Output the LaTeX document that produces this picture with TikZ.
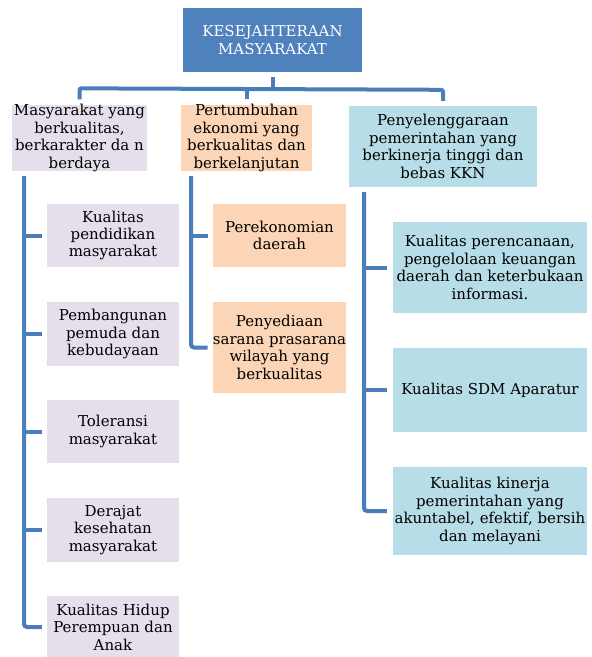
\documentclass[tikz,border=0pt]{standalone}
\usepackage{fontspec}
\setmainfont{DejaVu Serif}
\definecolor{topblue}{HTML}{4F81BD}
\definecolor{conncol}{HTML}{4A7EBB}
\definecolor{lavfill}{HTML}{E5DFEC}
\definecolor{peachfill}{HTML}{FBD5B5}
\definecolor{bluefill}{HTML}{B7DDE8}
\begin{document}
\begin{tikzpicture}[x=1pt,y=-1pt,
  box/.style={rectangle, inner sep=0pt, align=center, font=\fontsize{15}{17.4}\selectfont},
  topbox/.style={box, fill=topblue, text=white},
  lavbox/.style={box, fill=lavfill},
  peachbox/.style={box, fill=peachfill},
  bluebox/.style={box, fill=bluefill},
  conn/.style={draw=conncol, line width=4pt}]
\useasboundingbox (0,0) rectangle (592,657);
% top
\node[topbox, minimum width=179pt, minimum height=64pt] (top) at (272.5,40) {KESEJAHTERAAN\\MASYARAKAT};
% level 2
\node[lavbox, minimum width=135pt, minimum height=64pt] (L) at (79.5,138) {Masyarakat yang\\berkualitas,\\berkarakter da n\\berdaya};
\node[peachbox, minimum width=131pt, minimum height=64pt] (M) at (246.5,138) {Pertumbuhan\\ekonomi yang\\berkualitas dan\\berkelanjutan};
\node[bluebox, minimum width=188pt, minimum height=81pt] (R) at (443,146.5) {Penyelenggaraan\\pemerintahan yang\\berkinerja tinggi dan\\bebas KKN};
% level 3 left
\node[lavbox, minimum width=132pt, minimum height=63pt] (k1) at (113,235.5) {Kualitas\\pendidikan\\masyarakat};
\node[lavbox, minimum width=132pt, minimum height=64pt] (k2) at (113,334) {Pembangunan\\pemuda dan\\kebudayaan};
\node[lavbox, minimum width=132pt, minimum height=63pt] (k3) at (113,431.5) {Toleransi\\masyarakat};
\node[lavbox, minimum width=132pt, minimum height=64pt] (k4) at (113,530) {Derajat\\kesehatan\\masyarakat};
\node[lavbox, minimum width=132pt, minimum height=62pt] (k5) at (113,627) {Kualitas Hidup\\Perempuan dan\\Anak};
% level 3 middle
\node[peachbox, minimum width=133pt, minimum height=63pt] (m1) at (279.5,235.5) {Perekonomian\\daerah};
\node[peachbox, minimum width=133pt, minimum height=91pt] (m2) at (279.5,347.5) {Penyediaan\\sarana prasarana\\wilayah yang\\berkualitas};
% level 3 right
\node[bluebox, minimum width=194pt, minimum height=91pt] (r1) at (490,267.5) {Kualitas perencanaan,\\pengelolaan keuangan\\daerah dan keterbukaan\\informasi.};
\node[bluebox, minimum width=194pt, minimum height=84pt] (r2) at (490,390) {Kualitas SDM Aparatur};
\node[bluebox, minimum width=194pt, minimum height=88pt] (r3) at (490,511) {Kualitas kinerja\\pemerintahan yang\\akuntabel, efektif, bersih\\dan melayani};
% top connectors
\coordinate (hub) at (272.5,90);
\draw[conn] ([yshift=-5pt]top.south) -- (hub);
\draw[conn, rounded corners=2pt] ([yshift=5pt]L.north) -- ([yshift=16pt]L.north) -- ([yshift=16pt]R.north) -- ([yshift=5pt]R.north);
\draw[conn] ([yshift=5pt]M.north) -- ([yshift=16pt]M.north);
% left branch
\coordinate (Lv) at (24,176);
\draw[conn, rounded corners=3pt] (Lv) |- ([xshift=-5pt]k5.west);
\foreach \n in {k1,k2,k3,k4}
  \draw[conn] (Lv |- \n.west) -- ([xshift=-5pt]\n.west);
% middle branch
\coordinate (Mv) at (191,176);
\draw[conn, rounded corners=3pt] (Mv) |- ([xshift=-5pt]m2.west);
\draw[conn] (Mv |- m1.west) -- ([xshift=-5pt]m1.west);
% right branch
\coordinate (Rv) at (364,192);
\draw[conn, rounded corners=3pt] (Rv) |- ([xshift=-6pt]r3.west);
\foreach \n in {r1,r2}
  \draw[conn] (Rv |- \n.west) -- ([xshift=-6pt]\n.west);
\end{tikzpicture}
\end{document}
